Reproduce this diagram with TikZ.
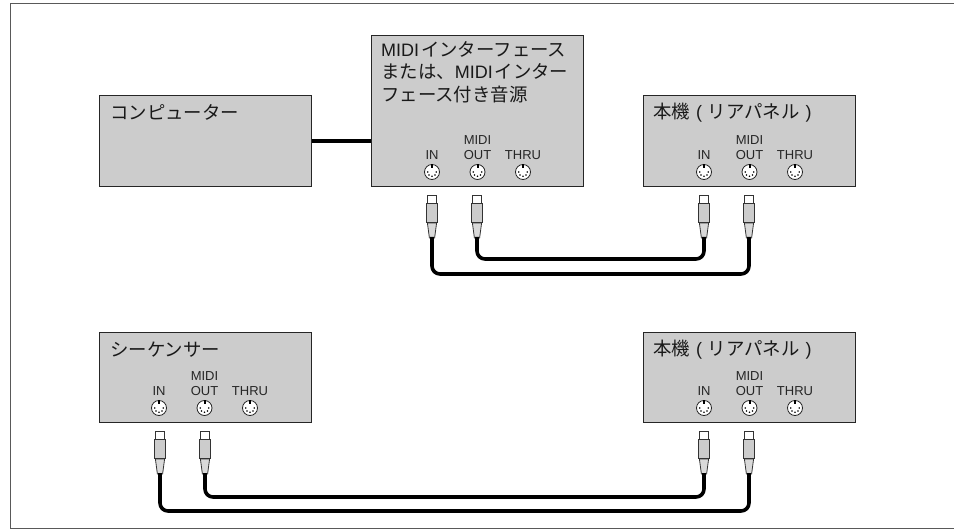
\documentclass[tikz,border=0pt]{standalone}
\usepackage{fontspec}
\setmainfont{Liberation Sans}
\newfontfamily\jpfont{Noto Sans CJK JP}
\newcommand{\jp}[1]{{\jpfont\fontsize{18.4}{22.5}\selectfont #1}}
\tikzset{
    panel/.style={draw=black!85, line width=1.3pt, fill=black!20, inner sep=0pt, anchor=north west},
    title/.style={inner sep=0pt, anchor=west, align=left, text=black!90, font=\fontsize{18}{22.5}\selectfont},
    portlabel/.style={inner sep=0pt, text=black!85, font=\fontsize{13}{15}\selectfont},
    port/.style={circle, draw=black!85, line width=0.8pt, fill=white, inner sep=0pt, minimum size=15pt},
    cable/.style={line width=3.6pt, black, rounded corners=8pt},
    plugpart/.style={draw=black!80, line width=1pt}
}
\begin{document}
\begin{tikzpicture}[x=1pt, y=-1pt]
    \useasboundingbox (0,0) rectangle (954,529);

    % Marco
    \draw[line width=1pt, black!65] (954,4) -- (10,4) -- (10,528) -- (954,528);

    % Cajas
    \node[panel, minimum width=212pt, minimum height=91pt] (computer) at (99,95) {};
    \node[panel, minimum width=212pt, minimum height=151pt] (interface) at (371,35) {};
    \node[panel, minimum width=212pt, minimum height=91pt] (rearA) at (643,95) {};
    \node[panel, minimum width=212pt, minimum height=90pt] (sequencer) at (99,332) {};
    \node[panel, minimum width=212pt, minimum height=90pt] (rearB) at (643,332) {};

    % Titulos
    \node[title] (computertitle) at (110,112) {\jp{コンピューター}};
    \node[title, anchor=north west] (interfacetitle) at (381,41) {MIDI\hspace{2pt}\jp{インターフェース}\\\jp{または、}MIDI\hspace{2pt}\jp{インター}\\\jp{フェース付き音源}};
    \node[title] (rearAtitle) at (653,113) {\jp{本機}\hspace{6pt}(\hspace{6pt}\jp{リアパネル}\hspace{6pt})};
    \node[title] (sequencertitle) at (110,350) {\jp{シーケンサー}};
    \node[title] (rearBtitle) at (653,350) {\jp{本機}\hspace{6pt}(\hspace{6pt}\jp{リアパネル}\hspace{6pt})};

    % Conectores y sus etiquetas
    \foreach \name/\x/\y in {if/432/172, rA/704/172, sq/159/408, rB/704/408} {
        \node[port] (\name in) at (\x,\y) {};
        \node[port] (\name out) at (\x+45.5,\y) {};
        \node[port] (\name thru) at (\x+91,\y) {};
        \node[portlabel] (\name inlabel) at (\x,\y-17) {IN};
        \node[portlabel] (\name outlabel) at (\x+45.5,\y-17) {OUT};
        \node[portlabel] (\name thrulabel) at (\x+91,\y-17) {THRU};
        \node[portlabel] (\name midilabel) at (\x+45.5,\y-32) {MIDI};
        \foreach \p in {in,out,thru} {
            \fill[black] ([xshift=-1pt]\name\p.north) rectangle ([xshift=1pt,yshift=-3.5pt]\name\p.north);
            \foreach \a in {0,45,90,135,180}
                \fill[black] (\name\p.center) ++(\a:4.2) circle (0.85pt);
        }
    }

    % Clavijas
    \foreach \name/\x/\y in {ifinplug/432/196, ifoutplug/477/196, rAinplug/704/196, rAoutplug/749/196,
                             sqinplug/160/432, sqoutplug/205/432, rBinplug/704/432, rBoutplug/749/432} {
        \draw[plugpart, fill=white] (\x-4.5,\y) rectangle (\x+4.5,\y+7.5);
        \draw[plugpart, line width=0.8pt, fill=black!15] (\x-4.6,\y+27) -- (\x+4.6,\y+27) -- (\x+2.6,\y+42) -- (\x-2.6,\y+42) -- cycle;
        \draw[plugpart, fill=black!20] (\x-5.8,\y+7.5) rectangle (\x+5.8,\y+27);
        \coordinate (\name) at (\x,\y+41);
    }

    % Cables
    \draw[cable] (computer.east) -- (computer.east -| interface.west);
    \draw[cable] (ifoutplug) -- ++(0,22) -| (rAinplug);
    \draw[cable] (ifinplug) -- ++(0,37) -| (rAoutplug);
    \draw[cable] (sqoutplug) -- ++(0,24) -| (rBinplug);
    \draw[cable] (sqinplug) -- ++(0,38) -| (rBoutplug);
\end{tikzpicture}
\end{document}
